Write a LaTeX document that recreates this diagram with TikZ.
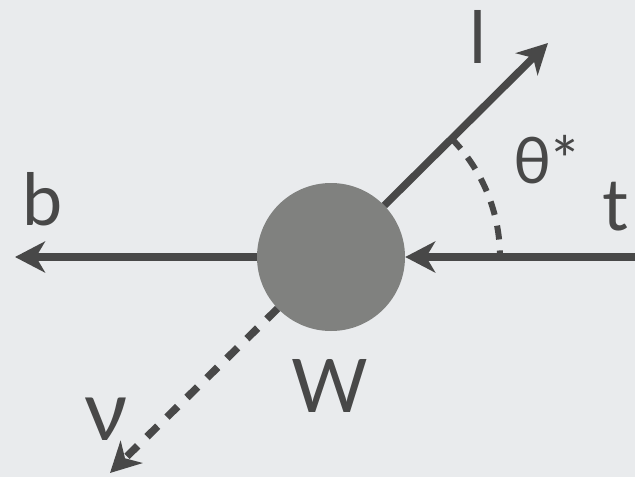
\documentclass[tikz,border=0pt]{standalone}
\usepackage{fontspec}
\setmainfont{Lato}
\usetikzlibrary{arrows.meta}
\definecolor{bgcol}{RGB}{233,235,237}
\definecolor{lcol}{RGB}{72,72,72}
\definecolor{wcol}{RGB}{128,129,127}

\begin{document}
\begin{tikzpicture}[x=1pt,y=-1pt,
  ln/.style={lcol,line width=7.5pt},
  tip/.style={-{Stealth[length=30pt,width=31pt,inset=9pt]}},
  lab/.style={text=lcol,font=\fontsize{72}{80}\selectfont,anchor=base,inner sep=0pt}]
\fill[bgcol] (0,0) rectangle (635,477);
\useasboundingbox (0,0) rectangle (635,477);
% particles
\node[circle,fill=wcol,minimum size=148pt,inner sep=0pt] (w) at (331,257) {};
\coordinate (bend) at (15,257);
\coordinate (tend) at (640,257);
\coordinate (lend) at (548,43);
\coordinate (nuend) at (110,473);
\draw[ln,tip] (w.west) -- (bend);
\draw[ln,tip] (tend) -- (w.east);
\draw[ln,tip] (w.44.6) -- (lend);
\draw[ln,tip,dash pattern=on 15pt off 13pt] (w.224) -- (nuend);
% angle
\draw[lcol,line width=6pt,dash pattern=on 14pt off 11pt] (w.center) ++(-44.6:169) arc[start angle=-44.6,end angle=0,radius=169];
% labels
\node[lab] (blab) at (43,225) {b};
\node[lab] (tlab) at (615,230) {t};
\node[lab] (llab) at (478,63) {l};
\node[lab,anchor=base west,font=\fontsize{64}{70}\selectfont] (thlab) at (513,183) {θ*};
\node[lab,font=\fontsize{74}{80}\selectfont] (wlab) at (330,412) {W};
\node[lab,font=\fontsize{84}{90}\selectfont] (nulab) at (106,440) {ν};
\end{tikzpicture}
\end{document}
